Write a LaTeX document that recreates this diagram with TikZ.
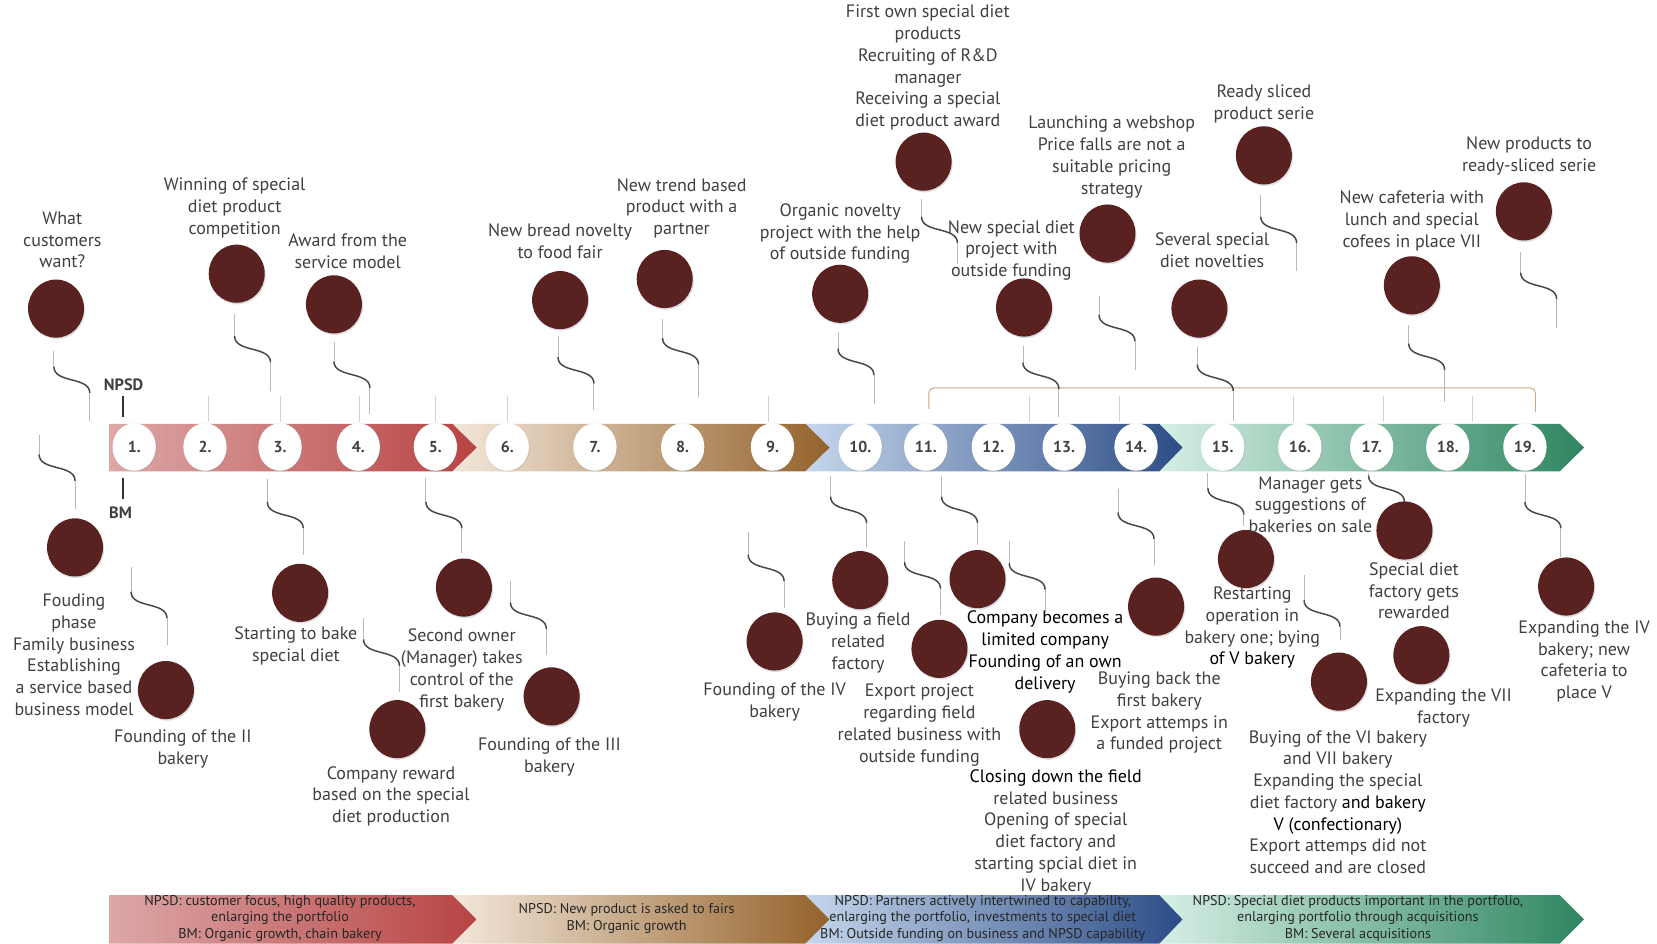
\documentclass[tikz,border=0pt]{standalone}
\usepackage{fontspec}
\setmainfont{PT Sans}
\usetikzlibrary{shapes.geometric,shadows}
\definecolor{txt}{HTML}{404040}
\definecolor{maroon}{HTML}{5A2121}
\definecolor{tan}{HTML}{C9A882}
\definecolor{sAl}{HTML}{DCA8A7}\definecolor{sAr}{HTML}{B84343}
\definecolor{sBl}{HTML}{F3E7DA}\definecolor{sBr}{HTML}{94622B}
\definecolor{sCl}{HTML}{C5D7EC}\definecolor{sCr}{HTML}{2C4C86}
\definecolor{sDl}{HTML}{D6EFE5}\definecolor{sDr}{HTML}{2E8660}
\newcommand\chev[7]{\shade[left color=#6,right color=#7] (#1,#4) -- (#2,#4) -- (#3,{(#4+#5)/2}) -- (#2,#5) -- (#1,#5) -- cycle;}
\newcommand\squig[4]{%
 \draw[vline] (#1,#2) -- (#1,#3);
 \draw[sline] (#1,#3) .. controls (#1,#3+16) and (#1+34,#3+9) .. (#1+34,#3+25);
 \draw[vline] (#1+34,#3+25) -- (#1+34,#4);}
\begin{document}
\begin{tikzpicture}[x=1pt,y=-1pt,
 lab/.style={align=center,font=\fontsize{17}{20.6}\selectfont,text=txt,inner sep=0pt},
 band/.style={align=center,font=\fontsize{13.4}{15.5}\selectfont,text=black!85,inner sep=0pt},
 num/.style={ellipse,fill=white,minimum width=41pt,minimum height=45pt,inner sep=0pt,
   font=\fontsize{15}{16}\selectfont\bfseries,text=txt,
   drop shadow={opacity=0.2,shadow xshift=0.8pt,shadow yshift=-1pt}},
 ev/.style={ellipse,fill=maroon,minimum width=53pt,minimum height=55pt,inner sep=0pt,
   drop shadow={opacity=0.25,shadow xshift=1pt,shadow yshift=-1.5pt}},
 vline/.style={draw=gray!55,line width=0.8pt},
 sline/.style={draw=black!72,line width=1.4pt},
 tick/.style={draw=gray!35,line width=0.8pt}]
\useasboundingbox (0,0) rectangle (1568,893);
\fill[white] (0,0) rectangle (1568,893);
% main bar
\chev{1097}{1476}{1499}{401}{446}{sDl}{sDr}
\chev{762}{1097}{1119}{401}{446}{sCl}{sCr}
\chev{428}{762}{785}{401}{446}{sBl}{sBr}
\chev{103}{428}{451}{401}{446}{sAl}{sAr}
% bottom bands
\chev{1097}{1476}{1499}{847}{893}{sDl}{sDr}
\chev{762}{1097}{1119}{847}{893}{sCl}{sCr}
\chev{428}{762}{785}{847}{893}{sBl}{sBr}
\chev{103}{428}{451}{847}{893}{sAl}{sAr}
\node[band] (b1) at (265,869) {NPSD: customer focus, high quality products,\\enlarging the portfolio\\BM: Organic growth, chain bakery};
\node[band] (b2) at (593,869) {NPSD: New product is asked to fairs\\BM: Organic growth};
\node[band] (b3) at (930,869) {NPSD: Partners actively intertwined to capability,\\enlarging the portfolio, investments to special diet\\BM: Outside funding on business and NPSD capability};
\node[band] (b4) at (1285,869) {NPSD: Special diet products important in the portfolio,\\enlarging portfolio through acquisitions\\BM: Several acquisitions};
% ticks
\foreach \x in {197,265,340,412,480,727,974,1059,1224,1309,1393}
  \draw[tick] (\x,375) -- (\x,399);
% bracket
\draw[tan,line width=0.9pt,rounded corners=5pt] (879,387) -- (879,367) -- (1453,367) -- (1453,390);
% NPSD / BM
\node[font=\fontsize{15.5}{17}\selectfont\bfseries,text=txt,inner sep=0pt] (npsd) at (117,364) {NPSD};
\draw[black!80,line width=2pt] (116,375) -- (116,395);
\node[font=\fontsize{15.5}{17}\selectfont\bfseries,text=txt,inner sep=0pt] (bm) at (114,485) {BM};
\draw[black!80,line width=2pt] (116,452) -- (116,472);
% number circles
\foreach \x/\n in {127/1,194/2,265/3,339/4,412/5,480/6,563/7,646/8,731/9,814/10,876/11,940/12,1007/13,1075/14,1157/15,1230/16,1298/17,1370/18,1443/19}
  \node[num] (n\n) at (\x,423) {\n.};
% connectors upper
\squig{51}{332}{347}{398}
\squig{222}{297}{318}{370}
\squig{316}{324}{342}{392}
\squig{528}{318}{338}{388}
\squig{627}{302}{320}{376}
\squig{793}{314}{330}{382}
\squig{872}{188}{205}{250}
\squig{968}{327}{343}{395}
\squig{1040}{280}{298}{350}
\squig{1193}{185}{205}{256}
\squig{1133}{328}{345}{398}
\squig{1333}{308}{325}{380}
\squig{1439}{238}{258}{310}
% connectors lower
\squig{37}{412}{430}{482}
\squig{124}{537}{560}{610}
\squig{253}{453}{475}{525}
\squig{344}{585}{605}{655}
\squig{403}{452}{475}{523}
\squig{483}{550}{570}{620}
\squig{708}{503}{525}{575}
\squig{786}{450}{470}{518}
\squig{856}{512}{532}{582}
\squig{891}{450}{470}{516}
\squig{955}{512}{533}{580}
\squig{1058}{463}{485}{535}
\squig{1143}{448}{462}{498}
\squig{1295}{448}{450}{476}
\squig{1234}{544}{568}{606}
\squig{1443}{449}{475}{527}
% event circles upper
\foreach \p [count=\i] in {(53,292),(224,259),(316,288),(530,284),(629,264),(795,278),(874,153),(969,291),(1048,221),(1196,147),(1135,292),(1336,270),(1442,200)}
  \node[ev] (u\i) at \p {};
% event circles lower
\foreach \p [count=\i] in {(71,518),(157,653),(284,561),(376,690),(439,556),(522,659),(733,607),(814,549),(889,614),(925,548),(991,690),(1094,574),(1179,529),(1329,502),(1267,645),(1345,620),(1482,555)}
  \node[ev] (l\i) at \p {};
% upper labels
\node[lab] (tu1) at (59,227) {What\\customers\\want?};
\node[lab] (tu2) at (222,197) {Winning of special\\diet product\\competition};
\node[lab] (tu3) at (329,238) {Award from the\\service model};
\node[lab] (tu4) at (530,228) {New bread novelty\\to food fair};
\node[lab] (tu5) at (645,197) {New trend based\\product with a\\partner};
\node[lab] (tu6) at (795,221) {Organic novelty\\project with the help\\of outside funding};
\node[lab] (tu7) at (878,64) {First own special diet\\products\\Recruiting of R\&D\\manager\\Receiving a special\\diet product award};
\node[lab] (tu8) at (957,237) {New special diet\\project with\\outside funding};
\node[lab] (tu9) at (1052,148.5) {Launching a webshop\\Price falls are not a\\suitable pricing\\strategy};
\node[lab] (tu10) at (1196,98) {Ready sliced\\product serie};
\node[lab] (tu11) at (1147,237) {Several special\\diet novelties};
\node[lab] (tu12) at (1336,209) {New cafeteria with\\lunch and special\\cofees in place VII};
\node[lab] (tu13) at (1447,147.5) {New products to\\ready-sliced serie};
% lower labels
\node[lab] (tl1) at (70,619.5) {Fouding\\phase\\Family business\\Establishing\\a service based\\business model};
\node[lab] (tl2) at (173,709) {Founding of the II\\bakery};
\node[lab] (tl3) at (280,611.5) {Starting to bake\\special diet};
\node[lab] (tl4) at (370,753.5) {Company reward\\based on the special\\diet production};
\node[lab] (tl5) at (437,634) {Second owner\\(Manager) takes\\control of the\\first bakery};
\node[lab] (tl6) at (520,716) {Founding of the III\\bakery};
\node[lab] (tl7) at (733,664) {Founding of the IV\\bakery};
\node[lab] (tl8) at (812,608.5) {Buying a field\\related\\factory};
\node[lab] (tl9) at (870,686) {Export project\\regarding field\\related business with\\outside funding};
\node[lab,text=black] (tl10) at (989,617) {Company becomes a\\limited company\\Founding of an own\\delivery};
\node[lab] (tl11) at (999,787.5) {\textcolor{black}{Closing down the field}\\related business\\Opening of special\\diet factory and\\starting spcial diet in\\IV bakery};
\node[lab] (tl12) at (1097,674.5) {Buying back the\\first bakery\\Export attemps in\\a funded project};
\node[lab] (tl13) at (1185,594) {Restarting\\operation in\\bakery one; bying\\\textcolor{black}{of V bakery}};
\node[lab] (tl14) at (1240,477.5) {Manager gets\\suggestions of\\bakeries on sale};
\node[lab] (tl15) at (1338,559) {Special diet\\factory gets\\rewarded};
\node[lab] (tl16) at (1266,759) {Buying of the VI bakery\\and VII bakery\\Expanding the special\\diet factory \textcolor{black}{and bakery}\\\textcolor{black}{V (confectionary)}\\Export attemps did not\\succeed and are closed};
\node[lab] (tl17) at (1366,670) {Expanding the VII\\factory};
\node[lab] (tl18) at (1499,626) {Expanding the IV\\bakery; new\\cafeteria to\\place V};
\end{tikzpicture}
\end{document}
